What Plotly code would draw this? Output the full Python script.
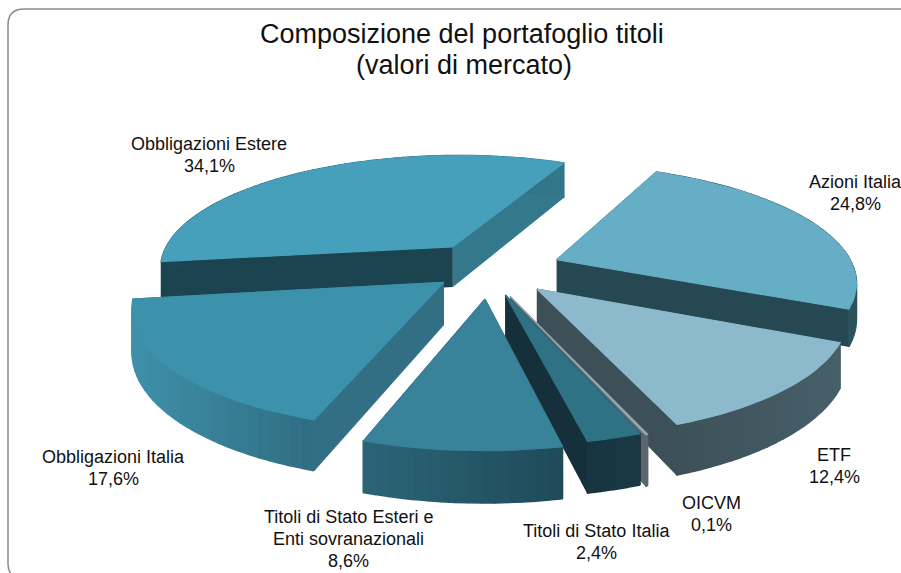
import numpy as np
import plotly.graph_objects as go

# Data
categories = [["Azioni Italia"], ["ETF"], ["OICVM"], ["Titoli di Stato Italia"],
              ["Titoli di Stato Esteri e", "Enti sovranazionali"],
              ["Obbligazioni Italia"], ["Obbligazioni Estere"]]
values = [24.8, 12.4, 0.1, 2.4, 8.6, 17.6, 34.1]
explode = [0.21, 0.20, 0.21, 0.21, 0.22, 0.23, 0.26]

# hand tweaks to sit where the original slices sit (pixels)
nudge_x = [2, -2, -10, -10, -8, 1, 0]
nudge_y = [-1, 3, 4, 2, 4, -4, 1]
depths = [35, 41, 41, 41, 41, 41, 41]

# Colours: top, start wall, end wall, outer wall left, outer wall right
top_colors = ["#66AEC6", "#8CBACC", "#8FA9B4", "#2F7286", "#38829A", "#3D92AB", "#46A0BC"]
start_wall = ["#264852", "#3D5057", "#5C666B", "#17323B", "#1F4A59", "#336F84", "#1C4450"]
end_wall = ["#264852", "#3D5057", "#5C666B", "#15303A", "#1F4A59", "#336F84", "#34788C"]
outer_left = ["#264852", "#3D5057", "#5C666B", "#17343F", "#2B6578", "#3F90AA", "#1C4450"]
outer_right = ["#2E525C", "#46606A", "#5C666B", "#1A3A46", "#1F4A59", "#2F6D82", "#34788C"]

# Projection of the tilted pie
CX, CY = 497, 269
RX, RY = 297, 114.7
PERSP = 0.175
START = 25


def project(x, y, drop=0.0):
    s = 1 / (1 - PERSP * y)
    return CX + RX * x * s, CY + RY * y * s + drop * s


def poly(fig, pts, color, i, width=1.1):
    fig.add_trace(go.Scatter(x=[p[0] + nudge_x[i] for p in pts], y=[p[1] + nudge_y[i] for p in pts],
                             mode="lines", fill="toself", fillcolor=color,
                             line=dict(color=color, width=width), hoverinfo="skip",
                             showlegend=False))


def mix(a, b, t):
    ca = [int(a[i:i + 2], 16) for i in (1, 3, 5)]
    cb = [int(b[i:i + 2], 16) for i in (1, 3, 5)]
    return "rgb(%d,%d,%d)" % tuple(round(p + (q - p) * t) for p, q in zip(ca, cb))


fig = go.Figure()

# Slice geometry from the values
edges = START + np.cumsum([0] + values) * 3.6
slices = []
for i in range(len(values)):
    a0, a1 = edges[i], edges[i + 1]
    mid = np.radians((a0 + a1) / 2)
    slices.append((i, a0, a1, explode[i] * np.sin(mid), -explode[i] * np.cos(mid)))

# back slices first
for i, a0, a1, ox, oy in sorted(slices, key=lambda s: s[4]):
    n = max(2, int((a1 - a0) / 2))
    angles = np.radians(np.linspace(a0, a1, n + 1))
    rimx = ox + np.sin(angles)
    rimy = oy - np.cos(angles)
    d = depths[i]

    # radial walls, farther one first
    walls = [(rimx[0], rimy[0], start_wall[i]), (rimx[-1], rimy[-1], end_wall[i])]
    walls.sort(key=lambda w: w[1])
    for wx, wy, col in walls:
        poly(fig, [project(ox, oy), project(wx, wy), project(wx, wy, d), project(ox, oy, d)], col, i)

    # outer wall, strip by strip for the gradient
    sx = [project(a, b)[0] for a, b in zip(rimx, rimy)]
    lo, hi = min(sx), max(sx)
    for k in range(n):
        p = [project(rimx[k], rimy[k]), project(rimx[k + 1], rimy[k + 1]),
             project(rimx[k + 1], rimy[k + 1], d), project(rimx[k], rimy[k], d)]
        t = ((p[0][0] + p[1][0]) / 2 - lo) / max(hi - lo, 1)
        poly(fig, p, mix(outer_left[i], outer_right[i], t), i, width=1.6)

    # top face
    tx, ty = project(np.r_[ox, rimx, ox], np.r_[oy, rimy, oy])
    poly(fig, list(zip(tx, ty)), top_colors[i], i)

# Labels, one annotation per line to hold the original line spacing
label_x = [855, 834, 711, 596, 348, 113, 209]
label_y = [193, 466, 514, 542, 539, 468, 155]
LINE_GAP = 22
for name, v, lx, ly in zip(categories, values, label_x, label_y):
    lines = name + [f"{v:.1f}%".replace(".", ",")]
    for k, line in enumerate(lines):
        fig.add_annotation(x=lx, y=ly + (k - (len(lines) - 1) / 2) * LINE_GAP, text=line,
                           showarrow=False, font=dict(size=18, color="#111111"))

title_lines = ["Composizione del portafoglio titoli", "(valori di mercato)"]
title_x = [461.5, 464]
for k, line in enumerate(title_lines):
    fig.add_annotation(x=title_x[k], y=34 + k * 31, text=line, showarrow=False,
                       font=dict(size=27, color="#111111"))

# Rounded frame
fig.add_shape(type="path", path="M 903 9 L 24 9 Q 8 9 8 25 L 8 564 Q 8 571 12 575",
              line=dict(color="#8C8C8C", width=1.5), layer="below")

fig.update_layout(
    width=901, height=573,
    margin=dict(l=0, r=0, t=0, b=0),
    paper_bgcolor="white", plot_bgcolor="white",
    font=dict(family="Liberation Sans, Arial, sans-serif"),
    xaxis=dict(range=[0, 901], visible=False, fixedrange=True),
    yaxis=dict(range=[573, 0], visible=False, fixedrange=True),
)

# drop the default page margin so the figure fills the window
fig.write_html("out.html", post_script="document.body.style.margin='0';",
               config=dict(displayModeBar=False))
